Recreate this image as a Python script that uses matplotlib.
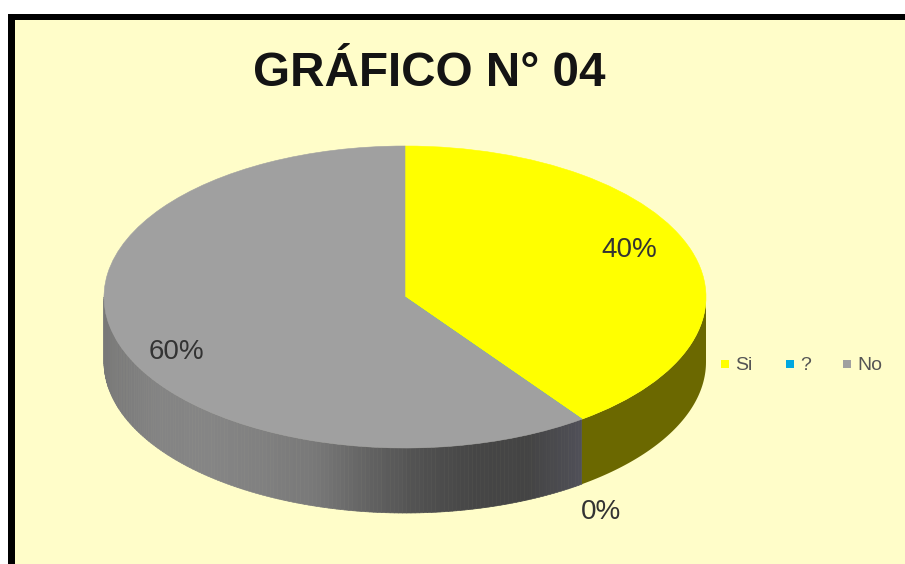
import matplotlib
matplotlib.use('Agg')
import matplotlib.pyplot as plt
from matplotlib.collections import PolyCollection
from matplotlib.colors import LinearSegmentedColormap
from matplotlib.patches import Rectangle
import numpy as np

plt.rcParams['font.family'] = ['Liberation Sans', 'DejaVu Sans']

title = 'GRÁFICO N° 04'
categories = ['Si', '?', 'No']
shares = [40, 0, 60]
colors = ['#ffff00', '#00a8e0', '#a0a0a0']
wall_yellow = '#6b6800'
# shading of the grey rim, left to right across the pie
wall_grey_stops = ['#787878', '#848484', '#858585', '#808080', '#787878', '#626262',
                   '#505050', '#464646', '#444444', '#505058']

W, H = 905, 564
fig = plt.figure(figsize=(W / 100, H / 100), dpi=100, facecolor='white')

# page layer in pixel units
bg = fig.add_axes([0, 0, 1, 1], zorder=0)
bg.set_xlim(0, W)
bg.set_ylim(H, 0)
bg.axis('off')
bg.add_patch(Rectangle((8, 14), W - 8, H - 14, fc='black', ec='none'))
bg.add_patch(Rectangle((15, 20), W - 15, H - 20, fc='#fffdc9', ec='none'))

# pie axes: -1..1 spans the ellipse of the top face
left, right, top, bottom = 104, 706, 146, 448
depth = 65 / ((bottom - top) / 2)
ax = fig.add_axes([left / W, 1 - bottom / H, (right - left) / W, (bottom - top) / H], zorder=1)
ax.patch.set_visible(False)

wedges, _ = ax.pie(shares, colors=colors, startangle=90, counterclock=False, radius=1)
ax.set_aspect('auto')
ax.set_xlim(-1, 1)
ax.set_ylim(-1, 1)
for w in wedges:
    w.set_zorder(5)
    w.set_edgecolor(w.get_facecolor())
    w.set_linewidth(0.4)

# rim below the top face, cut into thin strips for the shading
cmap = LinearSegmentedColormap.from_list('rim', wall_grey_stops)
split = np.deg2rad(shares[0] * 3.6)
angles = np.linspace(split, 3 * np.pi / 2, 160)
polys, fills = [], []
for a0, a1 in zip(angles[:-1], angles[1:]):
    x0, y0 = np.sin(a0), np.cos(a0)
    x1, y1 = np.sin(a1), np.cos(a1)
    polys.append([(x0, y0), (x1, y1), (x1, y1 - depth), (x0, y0 - depth)])
    mid = (x0 + x1) / 2
    fills.append(cmap((mid + 1) / (1 + np.sin(split))))
ax.add_collection(PolyCollection(polys, facecolors=fills, edgecolors=fills, linewidths=0.5,
                                 zorder=2, clip_on=False))

angles = np.linspace(np.pi / 2, split, 60)
rim = [(np.sin(a), np.cos(a)) for a in angles]
rim += [(np.sin(a), np.cos(a) - depth) for a in angles[::-1]]
ax.add_patch(plt.Polygon(rim, fc=wall_yellow, ec='none', zorder=2, clip_on=False))

# text layer above the pie
fg = fig.add_axes([0, 0, 1, 1], zorder=2)
fg.set_xlim(0, W)
fg.set_ylim(H, 0)
fg.axis('off')
fg.text(429, 74, title, fontsize=34.3, fontweight='bold', color='#141414', ha='center', va='center')
value_text = '#333333'
fg.text(629, 250, f'{shares[0]}%', fontsize=20, color=value_text, ha='center', va='center')
fg.text(601, 512, f'{shares[1]}%', fontsize=20, color=value_text, ha='center', va='center')
fg.text(176, 352, f'{shares[2]}%', fontsize=20, color=value_text, ha='center', va='center')

# legend strip to the right of the pie
legend_x = [725, 790, 847]
for x, name, c in zip(legend_x, categories, colors):
    fg.add_patch(Rectangle((x - 4, 360), 8, 8, fc=c, ec='none'))
    fg.text(x + 10, 365, name, fontsize=14, color='#555555', ha='left', va='center')

fig.savefig('out.png', dpi=100, facecolor='white')
